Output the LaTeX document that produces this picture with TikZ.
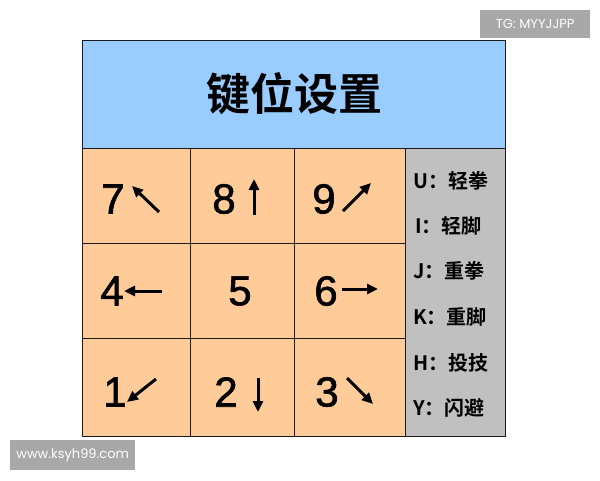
\documentclass[tikz,border=0pt]{standalone}
\usepackage{fontspec}
\setmainfont{Liberation Sans}
\newfontfamily\digfont{Liberation Sans}[FakeBold=1.6]
\newfontfamily\cjkb{Noto Sans CJK SC Bold}
\newfontfamily\wmfont{Poppins}
\usetikzlibrary{arrows.meta}
\definecolor{titleblue}{HTML}{99CCFF}
\definecolor{cellpeach}{HTML}{FFCC99}
\definecolor{panelgray}{HTML}{C0C0C0}
\definecolor{wmgray}{HTML}{A8A8A8}
\definecolor{linedark}{HTML}{1A1A1A}
\begin{document}
\begin{tikzpicture}[x=1pt,y=-1pt,
  cellbox/.style={draw=linedark,line width=1pt,fill=cellpeach},
  digit/.style={font=\digfont\fontsize{42}{42}\selectfont,text=black,inner sep=0pt},
  dirarrow/.style={line width=3pt,-{Triangle[length=11pt,width=10pt]},black},
  keytext/.style={font=\cjkb\fontsize{20}{20}\selectfont,anchor=west,inner sep=0pt},
  wmbox/.style={fill=wmgray,draw=none},
  wmtext/.style={text=white,font=\wmfont\fontsize{13}{13}\selectfont,inner sep=0pt}]
\useasboundingbox (0,0) rectangle (600,480);
\fill[white] (0,0) rectangle (600,480);
% title
\node[draw=linedark,line width=1pt,fill=titleblue,minimum width=423pt,minimum height=108pt,anchor=north west,inner sep=0pt] (title) at (82,40) {};
\node[font=\cjkb\fontsize{44}{44}\selectfont,inner sep=0pt] (titletext) at (294,94) {键位设置};
% cells
\node[cellbox,anchor=north west,minimum width=108pt,minimum height=95pt,inner sep=0pt] (c7) at (82,148) {};
\node[cellbox,anchor=north west,minimum width=104pt,minimum height=95pt,inner sep=0pt] (c8) at (190,148) {};
\node[cellbox,anchor=north west,minimum width=111pt,minimum height=95pt,inner sep=0pt] (c9) at (294,148) {};
\node[cellbox,anchor=north west,minimum width=108pt,minimum height=95pt,inner sep=0pt] (c4) at (82,243) {};
\node[cellbox,anchor=north west,minimum width=104pt,minimum height=95pt,inner sep=0pt] (c5) at (190,243) {};
\node[cellbox,anchor=north west,minimum width=111pt,minimum height=95pt,inner sep=0pt] (c6) at (294,243) {};
\node[cellbox,anchor=north west,minimum width=108pt,minimum height=98pt,inner sep=0pt] (c1) at (82,338) {};
\node[cellbox,anchor=north west,minimum width=104pt,minimum height=98pt,inner sep=0pt] (c2) at (190,338) {};
\node[cellbox,anchor=north west,minimum width=111pt,minimum height=98pt,inner sep=0pt] (c3) at (294,338) {};
% panel
\node[draw=linedark,line width=1pt,fill=panelgray,anchor=north west,minimum width=100pt,minimum height=288pt,inner sep=0pt] (panel) at (405,148) {};
% digits
\node[digit] (d7) at (113,199) {7};
\node[digit] (d8) at (224,199) {8};
\node[digit] (d9) at (324,199) {9};
\node[digit] (d4) at (112,291) {4};
\node[digit] (d5) at (240,291) {5};
\node[digit] (d6) at (326,291) {6};
\node[digit] (d1) at (115,392) {1};
\node[digit] (d2) at (226,392) {2};
\node[digit] (d3) at (327,392) {3};
% arrow end points
\coordinate (a7t) at (159,212); \coordinate (a7h) at (132,186);
\coordinate (a8t) at (254,215); \coordinate (a8h) at (254,179);
\coordinate (a9t) at (343,211); \coordinate (a9h) at (371,183);
\coordinate (a4t) at (162,291); \coordinate (a4h) at (124,291);
\coordinate (a6t) at (342,289); \coordinate (a6h) at (378,289);
\coordinate (a1t) at (156,379); \coordinate (a1h) at (127,402);
\coordinate (a2t) at (258,378); \coordinate (a2h) at (258,412);
\coordinate (a3t) at (347,378); \coordinate (a3h) at (373,404);
\draw[dirarrow] (a7t) -- (a7h);
\draw[dirarrow] (a8t) -- (a8h);
\draw[dirarrow] (a9t) -- (a9h);
\draw[dirarrow] (a4t) -- (a4h);
\draw[dirarrow] (a6t) -- (a6h);
\draw[dirarrow] (a1t) -- (a1h);
\draw[dirarrow] (a2t) -- (a2h);
\draw[dirarrow] (a3t) -- (a3h);
% key list
\node[keytext] (kU) at (413,181) {U：轻拳};
\node[keytext] (kI) at (413,226) {\hspace{2pt}I：轻脚};
\node[keytext] (kJ) at (413,271) {J：重拳};
\node[keytext] (kK) at (413,317) {K：重脚};
\node[keytext] (kH) at (413,363) {H：投技};
\node[keytext] (kY) at (413,408) {Y：闪避};
% watermarks
\node[wmbox,anchor=north west,minimum width=110pt,minimum height=28pt,inner sep=0pt] (wm1) at (480,10) {};
\node[wmtext] (wm1t) at (wm1.center) {TG: MYYJJPP};
\node[wmbox,anchor=north west,minimum width=125pt,minimum height=30pt,inner sep=0pt] (wm2) at (10,440) {};
\node[wmtext] (wm2t) at (wm2.center) {www.ksyh99.com};
\end{tikzpicture}
\end{document}
